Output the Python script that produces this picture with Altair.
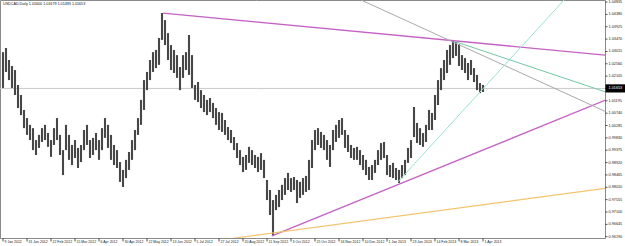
import altair as alt
import pandas as pd

symbol_title = "USDCAD,Daily  1.01600 1.01679 1.01493 1.01653"
last_price = 1.01653
last_price_label = "1.01653"

bar_high = [
    1.0299, 1.0314, 1.0270, 1.0248, 1.0233, 1.0178, 1.0141, 1.0086, 1.0056, 1.0031,
    1.0019, 0.9975, 0.9994, 1.0019, 1.0031, 1.0001, 0.9975, 1.0019, 1.0056, 0.9994,
    0.9938, 1.0031, 0.9994, 0.9957, 0.9975, 0.9946, 0.9957, 1.0012, 1.0031, 0.9975,
    0.9983, 1.0001, 0.9975, 1.0019, 1.0056, 1.0031, 0.9994, 0.9957, 0.9938, 0.9894,
    0.9865, 0.9902, 0.9931, 0.9975, 1.0012, 1.0056, 1.0123, 1.0196, 1.0226, 1.0270,
    1.0299, 1.0307, 1.0351, 1.0443, 1.0417, 1.0369, 1.0325, 1.0307, 1.0288, 1.0244,
    1.0288, 1.0299, 1.0362, 1.0288, 1.0178, 1.0189, 1.0159, 1.0141, 1.0123, 1.0130,
    1.0112, 1.0093, 1.0078, 1.0075, 1.0049, 1.0023, 1.0012, 0.9986, 0.9964, 0.9938,
    0.9913, 0.9920, 0.9950, 0.9938, 0.9920, 0.9913, 0.9927, 0.9902, 0.9828, 0.9791,
    0.9754, 0.9773, 0.9791, 0.9810, 0.9835, 0.9854, 0.9835, 0.9839, 0.9828, 0.9821,
    0.9835, 0.9843, 0.9902, 0.9975, 1.0012, 1.0019, 1.0005, 0.9994, 0.9975, 0.9957,
    1.0012, 1.0031, 1.0049, 1.0056, 1.0012, 0.9994, 0.9957, 0.9946, 0.9950, 0.9938,
    0.9920, 0.9902, 0.9876, 0.9883, 0.9902, 0.9938, 0.9964, 0.9968, 0.9920, 0.9883,
    0.9891, 0.9872, 0.9865, 0.9883, 0.9902, 0.9946, 0.9975, 1.0097, 1.0038, 1.0019,
    1.0001, 1.0031, 1.0086, 1.0075, 1.0141, 1.0196, 1.0240, 1.0270, 1.0307, 1.0325,
    1.0340, 1.0336, 1.0329, 1.0288, 1.0277, 1.0259, 1.0270, 1.0240, 1.0215, 1.0185,
    1.0178,
]
bar_low = [
    1.0167, 1.0226, 1.0196, 1.0167, 1.0141, 1.0093, 1.0067, 1.0019, 0.9994, 0.9975,
    0.9938, 0.9920, 0.9946, 0.9968, 0.9975, 0.9950, 0.9913, 0.9957, 0.9975, 0.9920,
    0.9846, 0.9938, 0.9902, 0.9883, 0.9909, 0.9872, 0.9894, 0.9938, 0.9957, 0.9909,
    0.9920, 0.9938, 0.9902, 0.9938, 0.9983, 0.9946, 0.9902, 0.9883, 0.9872, 0.9821,
    0.9802, 0.9835, 0.9865, 0.9902, 0.9938, 0.9994, 1.0031, 1.0086, 1.0159, 1.0196,
    1.0226, 1.0240, 1.0252, 1.0344, 1.0325, 1.0270, 1.0233, 1.0222, 1.0204, 1.0159,
    1.0204, 1.0233, 1.0215, 1.0167, 1.0123, 1.0115, 1.0093, 1.0078, 1.0067, 1.0078,
    1.0056, 1.0031, 1.0012, 1.0005, 0.9994, 0.9975, 0.9964, 0.9938, 0.9909, 0.9883,
    0.9857, 0.9865, 0.9891, 0.9883, 0.9872, 0.9857, 0.9865, 0.9835, 0.9754, 0.9699,
    0.9622, 0.9717, 0.9728, 0.9754, 0.9773, 0.9791, 0.9784, 0.9791, 0.9743, 0.9762,
    0.9773, 0.9784, 0.9791, 0.9872, 0.9938, 0.9957, 0.9946, 0.9938, 0.9902, 0.9876,
    0.9938, 0.9968, 0.9983, 0.9994, 0.9946, 0.9931, 0.9909, 0.9902, 0.9902, 0.9883,
    0.9865, 0.9846, 0.9828, 0.9828, 0.9854, 0.9883, 0.9902, 0.9909, 0.9846, 0.9839,
    0.9835, 0.9828, 0.9817, 0.9835, 0.9846, 0.9891, 0.9909, 0.9986, 0.9964, 0.9957,
    0.9950, 0.9968, 1.0012, 1.0012, 1.0049, 1.0104, 1.0159, 1.0196, 1.0222, 1.0252,
    1.0277, 1.0285, 1.0248, 1.0233, 1.0222, 1.0196, 1.0215, 1.0189, 1.0159, 1.0148,
    1.0152,
]

date_labels = [
    "9 Jan 2012", "31 Jan 2012", "22 Feb 2012", "15 Mar 2012", "6 Apr 2012",
    "30 Apr 2012", "22 May 2012", "13 Jun 2012", "5 Jul 2012", "27 Jul 2012",
    "20 Aug 2012", "11 Sep 2012", "3 Oct 2012", "25 Oct 2012", "16 Nov 2012",
    "10 Dec 2012", "1 Jan 2013", "23 Jan 2013", "14 Feb 2013", "8 Mar 2013",
    "1 Apr 2013",
]
price_ticks = [
    1.04835, 1.04380, 1.03925, 1.03470, 1.03015, 1.02560, 1.02105, 1.01650,
    1.01195, 1.00740, 1.00285, 0.99830, 0.99375, 0.98920, 0.98465, 0.98010,
    0.97555, 0.97100, 0.96645, 0.96190,
]

# trend lines: start (trading-day index, price) -> end (trading-day index, price)
line_names = ["upper_magenta", "lower_magenta", "gray", "cyan", "green", "orange"]
line_day0 = [108.7, 181.3, 240.7, 265.3, 303.3, 155.3]
line_p0 = [1.0443, 0.9622, 1.0491, 0.9821, 1.0338, 0.9613]
line_day1 = [403.3, 403.3, 403.3, 376.0, 403.3, 403.3]
line_p1 = [1.0288, 1.0121, 1.0081, 1.0491, 1.0153, 0.9797]
line_colors = ["#c462c4", "#c462c4", "#a9a9a9", "#9be3cf", "#72c9a4", "#f2c46e"]
line_widths = [1.3, 1.3, 1.0, 1.0, 1.0, 1.2]

FONT = "Liberation Sans"
FS_Y = 3.8
FS_X = 3.5
FS_T = 3.7
X_DOMAIN = [0, 403.33]
Y_DOMAIN = [0.96142, 1.0491]

bars = pd.DataFrame({
    "day": [2 + 2 * i for i in range(len(bar_high))],
    "high": bar_high,
    "low": bar_low,
})
xticks = pd.DataFrame({"day": [2 + 16 * k for k in range(len(date_labels))],
                       "label": date_labels})
yticks = pd.DataFrame({"p": price_ticks,
                       "label": ["%.5f" % v for v in price_ticks]})

xscale = alt.Scale(domain=X_DOMAIN, nice=False, zero=False)
yscale = alt.Scale(domain=Y_DOMAIN, nice=False, zero=False)

bar_layer = alt.Chart(bars).mark_rule(color="#474747", strokeWidth=2.1).encode(
    x=alt.X("day:Q", scale=xscale, axis=None),
    y=alt.Y("low:Q", scale=yscale, axis=None),
    y2="high:Q",
)

bid = alt.Chart(pd.DataFrame({"p": [last_price]})).mark_rule(
    color="#c9c9c9", strokeWidth=1).encode(y=alt.Y("p:Q", scale=yscale, axis=None))

lines = pd.DataFrame({"name": line_names, "d0": line_day0, "p0": line_p0,
                      "d1": line_day1, "p1": line_p1, "w": line_widths})
line_layer = alt.Chart(lines).mark_rule(clip=True).encode(
    x=alt.X("d0:Q", scale=xscale, axis=None),
    x2="d1:Q",
    y=alt.Y("p0:Q", scale=yscale, axis=None),
    y2="p1:Q",
    color=alt.Color("name:N", scale=alt.Scale(domain=line_names, range=line_colors), legend=None),
    strokeWidth=alt.StrokeWidth("w:Q", scale=None),
)

# right price axis
y_tick_marks = alt.Chart(yticks).mark_rule(color="#555", strokeWidth=1).encode(
    x=alt.value(605), x2=alt.value(607.5), y=alt.Y("p:Q", scale=yscale, axis=None))
y_tick_text = alt.Chart(yticks).mark_text(
    align="left", baseline="middle", fontSize=FS_Y, font=FONT, color="#222").encode(
    x=alt.value(608.5), y=alt.Y("p:Q", scale=yscale, axis=None), text="label:N")

# bottom date axis
x_tick_marks = alt.Chart(xticks).mark_rule(color="#555", strokeWidth=1).encode(
    x=alt.X("day:Q", scale=xscale, axis=None), y=alt.value(238), y2=alt.value(241.5))
x_tick_text = alt.Chart(xticks).mark_text(
    align="left", baseline="middle", fontSize=FS_X, font=FONT, color="#222", dx=1.5).encode(
    x=alt.X("day:Q", scale=xscale, axis=None), y=alt.value(241.5), text="label:N")

title_layer = alt.Chart(pd.DataFrame({"t": [symbol_title]})).mark_text(
    align="left", baseline="middle", fontSize=FS_T, font=FONT, color="#111").encode(
    x=alt.value(3), y=alt.value(4), text="t:N")

price_box = alt.Chart(pd.DataFrame({"p": [last_price], "t": [last_price_label]})).transform_calculate(
    top="datum.p + 0.0015", bot="datum.p - 0.0015"
).mark_rect(color="black").encode(
    x=alt.value(605.5), x2=alt.value(625),
    y=alt.Y("top:Q", scale=yscale, axis=None), y2="bot:Q")

price_text = alt.Chart(pd.DataFrame({"p": [last_price], "t": [last_price_label]})).mark_text(
    align="left", baseline="middle", fontSize=FS_Y, font=FONT, color="white").encode(
    x=alt.value(608.5), y=alt.Y("p:Q", scale=yscale, axis=None), text="t:N")

chart = alt.layer(
    bid, bar_layer, line_layer, y_tick_marks, y_tick_text, x_tick_marks, x_tick_text,
    title_layer, price_box, price_text,
).properties(
    width=605, height=238,
    padding={"left": 0, "top": 0, "right": 20, "bottom": 8},
    autosize=alt.AutoSizeParams(type="none"),
    background="white",
).configure_view(stroke="#8a8a8a", strokeWidth=1)

chart.save("out.html", embed_options={"renderer": "svg", "actions": False})
